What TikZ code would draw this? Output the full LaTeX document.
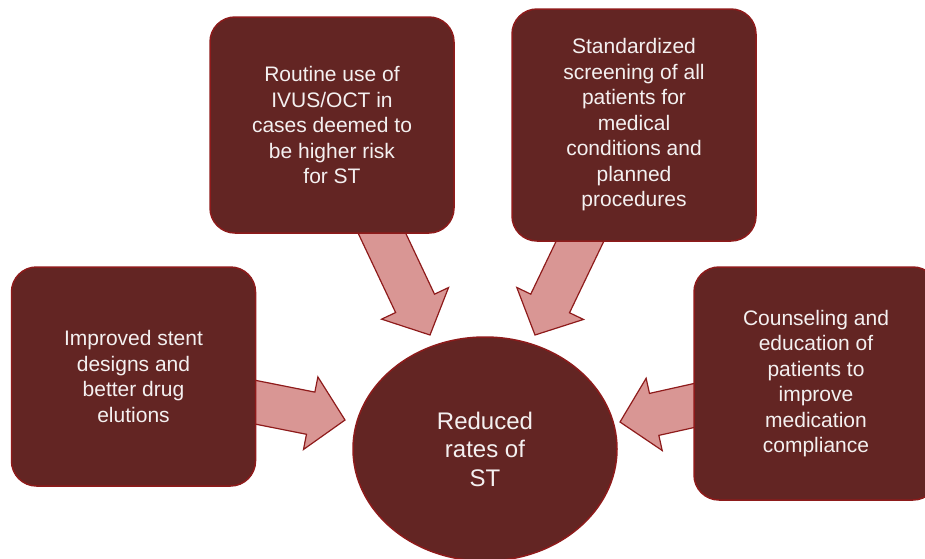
\documentclass[tikz,border=0pt]{standalone}
\usepackage{fontspec}
\setmainfont{Liberation Sans}
\usetikzlibrary{shapes.geometric,calc,backgrounds}
\definecolor{boxfill}{HTML}{632523}
\definecolor{boxline}{HTML}{8E1B1B}
\definecolor{arrowfill}{HTML}{D99694}
\definecolor{textwhite}{HTML}{F4F0F0}
\tikzset{
  box/.style={draw=boxline, line width=1.5pt, fill=boxfill, rounded corners=25pt,
    minimum width=244pt, inner sep=0pt, align=center, text=textwhite,
    font=\fontsize{21}{25.5}\selectfont},
  hub/.style={ellipse, draw=boxline, line width=1.5pt, fill=boxfill,
    minimum width=264pt, minimum height=224pt, inner sep=0pt, align=center,
    text=textwhite, font=\fontsize{24}{28.5}\selectfont},
  bigarrow/.style={fill=arrowfill, draw=boxline, line width=1.2pt, line join=miter}
}
\newcommand{\blockarrow}[2]{%
  \coordinate (#1-h) at ($(#2)!35pt!(#1)$);
  \draw[bigarrow] ($(#1)!21.5pt!90:(#2)$) -- ($(#1-h)!21.5pt!90:(#2)$)
    -- ($(#1-h)!37pt!90:(#2)$) -- (#2) -- ($(#1-h)!37pt!-90:(#2)$)
    -- ($(#1-h)!21.5pt!-90:(#2)$) -- ($(#1)!21.5pt!-90:(#2)$) -- cycle;}

\begin{document}
\begin{tikzpicture}[x=1pt,y=-1pt]
  \useasboundingbox (0,0) rectangle (925,558);
  \node[box, minimum height=216pt] (routine) at (332,125)
    {Routine use of\\IVUS/OCT in\\cases deemed to\\be higher risk\\for ST};
  \node[box, minimum height=232pt] (screening) at (634,125)
    {Standardized\\screening of all\\patients for\\medical\\conditions and\\planned\\procedures};
  \node[box, minimum height=219pt] (stent) at (133.5,376.5)
    {Improved stent\\designs and\\better drug\\elutions};
  \node[box, minimum height=233pt] (counsel) at (816,383.5)
    {Counseling and\\education of\\patients to\\improve\\medication\\compliance};
  \node[hub] (reduced) at (485,449) {Reduced\\rates of\\ST};

  \coordinate (routine-out) at ($(routine.south)+(45,-11)$);
  \coordinate (screening-out) at ($(screening.south)+(-49,-11)$);
  \coordinate (stent-out) at ($(stent.east)+(-12,23.5)$);
  \coordinate (counsel-out) at ($(counsel.west)+(12,19.5)$);
  \coordinate (routine-in) at ($(reduced.center)+(-55,-114)$);
  \coordinate (screening-in) at ($(reduced.center)+(50,-114)$);
  \coordinate (stent-in) at ($(reduced.center)+(-140,-29)$);
  \coordinate (counsel-in) at ($(reduced.center)+(135,-27)$);

  \begin{pgfonlayer}{background}
    \blockarrow{routine-out}{routine-in}
    \blockarrow{screening-out}{screening-in}
    \blockarrow{stent-out}{stent-in}
    \blockarrow{counsel-out}{counsel-in}
  \end{pgfonlayer}
\end{tikzpicture}
\end{document}
